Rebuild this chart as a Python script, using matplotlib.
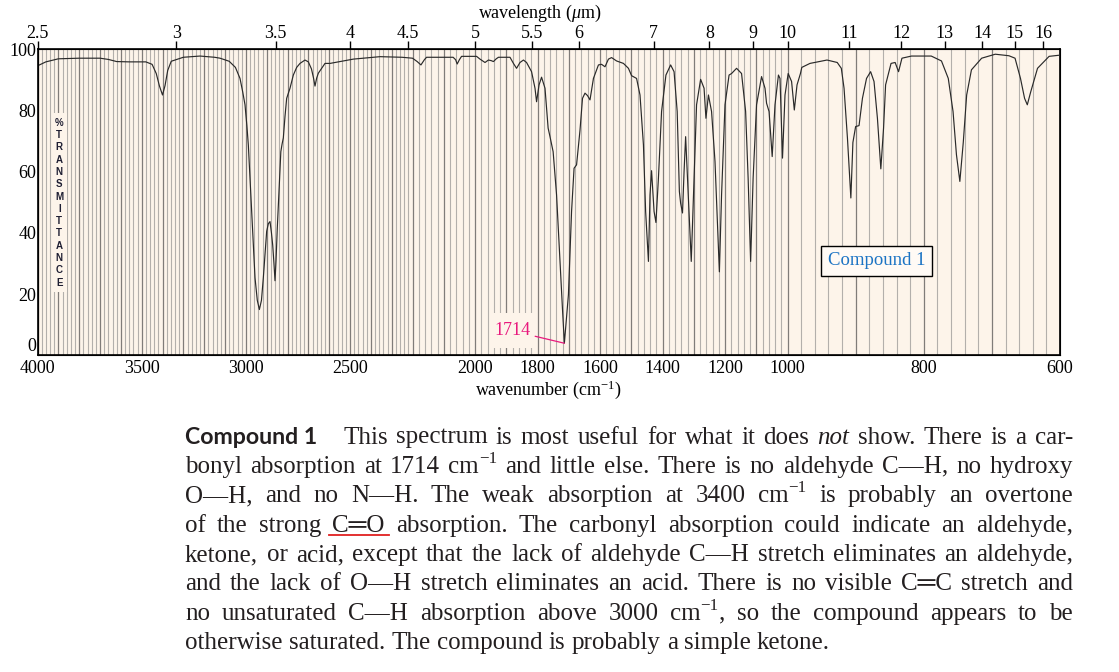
import numpy as np
import matplotlib
matplotlib.use("Agg")
import matplotlib.pyplot as plt
from matplotlib.patches import Rectangle
from matplotlib.lines import Line2D
from matplotlib.ticker import NullLocator

plt.rcParams['font.family'] = ['Liberation Serif', 'DejaVu Sans']
plt.rcParams['mathtext.fontset'] = 'custom'
plt.rcParams['mathtext.rm'] = 'Liberation Serif'
plt.rcParams['mathtext.it'] = 'Liberation Serif:italic'
plt.rcParams['mathtext.bf'] = 'Liberation Serif:bold'

# spectrum (cm-1, %T)
wavenumber = [4000, 3960, 3900, 3800, 3700, 3660, 3620, 3560, 3480, 3450, 3430, 3415,
              3400, 3388, 3375, 3358, 3300, 3220, 3150, 3124, 3080, 3050, 3028, 3015,
              3004, 2995, 2988, 2980, 2972, 2964, 2956, 2945, 2935, 2925, 2916, 2908,
              2900, 2892, 2884, 2877, 2871, 2865, 2860, 2855, 2849, 2840, 2832, 2826,
              2820, 2812, 2804, 2788, 2772, 2756, 2740, 2716, 2700, 2685, 2675, 2668,
              2660, 2652, 2636, 2620, 2596, 2484, 2356, 2250, 2200, 2185, 2173, 2162,
              2155, 2070, 2062, 2057, 2050, 2043, 1995, 1984, 1968, 1957, 1948, 1941,
              1932, 1925, 1888, 1877, 1867, 1856, 1845, 1835, 1819, 1808, 1803, 1795,
              1787, 1776, 1766, 1760, 1750, 1739, 1728, 1720, 1714, 1701, 1691, 1683,
              1675, 1664, 1656, 1648, 1640, 1632, 1621, 1605, 1595, 1584, 1573, 1563,
              1547, 1525, 1509, 1499, 1483, 1472, 1461, 1454, 1445, 1440, 1435, 1427,
              1421, 1413, 1403, 1389, 1374, 1363, 1353, 1346, 1342, 1336, 1331, 1326,
              1320, 1308, 1299, 1291, 1278, 1267, 1261, 1253, 1243, 1232, 1218, 1211,
              1200, 1187, 1179, 1163, 1147, 1134, 1126, 1118, 1110, 1099, 1083, 1072,
              1067, 1059, 1049, 1040, 1029, 1024, 1016, 1008, 999, 994, 990, 986,
              981, 979, 967, 942, 927, 921, 917, 912, 907, 904, 900, 895,
              890, 884, 878, 873, 868, 863, 859, 856, 848, 842, 837, 832,
              818, 789, 774, 764, 757, 752, 747, 742, 737, 730, 715, 695,
              675, 666, 658, 652, 648, 643, 633, 616, 600]
transmittance = [94.5, 95.8, 96.8, 97.0, 97.0, 96.6, 95.9, 95.8, 95.8, 95.0, 92.0, 88.0,
                 85.0, 88.0, 93.0, 96.0, 97.3, 97.7, 97.3, 97.0, 96.0, 94.0, 90.4, 86.0,
                 81.8, 75.0, 68.7, 58.0, 47.0, 36.0, 25.4, 18.0, 15.0, 18.0, 25.4, 33.0,
                 40.5, 43.0, 43.7, 40.0, 36.0, 30.0, 24.4, 31.0, 41.6, 55.0, 66.5, 69.0,
                 71.0, 78.0, 83.9, 87.2, 91.5, 94.0, 95.3, 96.4, 95.8, 93.5, 90.5, 87.9,
                 90.5, 92.1, 93.7, 95.3, 95.3, 96.7, 97.5, 97.3, 97.0, 95.9, 94.8, 96.5,
                 97.3, 97.3, 96.5, 95.1, 96.5, 97.6, 97.6, 96.7, 95.6, 96.4, 96.2, 95.9,
                 96.8, 97.3, 97.3, 95.3, 93.7, 95.6, 96.4, 95.6, 92.6, 87.2, 82.8, 88.3,
                 90.8, 87.2, 74.2, 71.4, 66.5, 52.4, 30.7, 15.0, 4.0, 19.9, 47.0, 61.1,
                 62.2, 73.5, 83.9, 85.6, 84.8, 83.4, 90.4, 94.8, 95.0, 94.2, 96.7, 97.2,
                 96.1, 95.3, 93.7, 91.3, 90.4, 85.0, 68.7, 47.0, 30.7, 52.4, 60.3, 47.0,
                 43.4, 57.9, 79.6, 91.5, 94.8, 92.6, 79.6, 53.5, 49.7, 46.5, 60.0, 71.4,
                 57.9, 30.7, 57.9, 81.8, 90.1, 87.2, 77.4, 85.0, 79.6, 63.3, 27.3, 52.4,
                 81.8, 91.5, 92.0, 93.7, 92.0, 79.6, 57.9, 30.7, 57.9, 81.8, 91.0, 87.2,
                 82.3, 79.6, 64.9, 81.8, 91.5, 90.4, 64.4, 85.0, 92.0, 89.4, 80.1, 88.3,
                 92.0, 94.0, 95.3, 96.4, 95.6, 93.7, 87.2, 70.9, 51.4, 69.5, 74.7, 75.0,
                 83.9, 90.4, 92.6, 89.4, 77.4, 60.9, 74.2, 88.3, 95.3, 95.6, 92.6, 97.0,
                 97.7, 97.7, 96.1, 90.4, 79.6, 65.5, 56.8, 69.5, 85.0, 93.2, 97.0, 98.3,
                 97.8, 97.0, 90.4, 83.9, 81.8, 86.0, 93.7, 97.6, 98.0]

wavenumber_ticks = [4000, 3500, 3000, 2500, 2000, 1800, 1600, 1400, 1200, 1000, 800, 600]
wavelength_ticks = [2.5, 3, 3.5, 4, 4.5, 5, 5.5, 6, 7, 8, 9, 10, 11, 12, 13, 14, 15, 16]
pct_ticks = [0, 20, 40, 60, 80, 100]
peak_label = 1714
peak_value = 4.0

# "_" marks an italic word, "^" a superscript of two characters
paragraph = [
    "This spectrum is most useful for what it does _not show. There is a car-",
    "bonyl absorption at 1714 cm^−1 and little else. There is no aldehyde C—H, no hydroxy",
    "O—H, and no N—H. The weak absorption at 3400 cm^−1 is probably an overtone",
    "of the strong C═O absorption. The carbonyl absorption could indicate an aldehyde,",
    "ketone, or acid, except that the lack of aldehyde C—H stretch eliminates an aldehyde,",
    "and the lack of O—H stretch eliminates an acid. There is no visible C═C stretch and",
    "no unsaturated C—H absorption above 3000 cm^−1, so the compound appears to be",
    "otherwise saturated. The compound is probably a simple ketone.",
]

bg = '#fdf4ea'
W, H = 1119, 672
fig = plt.figure(figsize=(W / 100, H / 100), dpi=100)
ax = fig.add_axes([37.5 / W, 1 - 355.5 / H, 1022.5 / W, 306.5 / H])


# chart paper: three linear pieces in wavenumber
def fwd(w):
    return np.interp(w, [600, 1000, 2200, 4000], [0, 272.5, 647.5, 1022.5])


def inv(u):
    return np.interp(u, [0, 272.5, 647.5, 1022.5], [600, 1000, 2200, 4000])


ax.set_xscale('function', functions=(fwd, inv))
ax.set_xlim(4000, 600)
ax.set_ylim(0, 100)
ax.set_facecolor(bg)

grid = np.arange(600, 4001, 20)
ax.vlines(grid[grid % 100 != 0], 0, 100, colors='#b3afab', lw=0.8, zorder=1)
ax.vlines(grid[grid % 100 == 0], 0, 100, colors='#807c79', lw=0.9, zorder=1)

ax.plot(wavenumber, transmittance, color='#2a2a2a', lw=0.85, zorder=4)

ax.set_xticks(wavenumber_ticks, labels=[str(t) for t in wavenumber_ticks])
ax.xaxis.set_minor_locator(NullLocator())
ax.set_yticks(pct_ticks, labels=[str(t) for t in pct_ticks])
ax.tick_params(axis='both', length=0, labelsize=13)
ax.tick_params(axis='x', pad=3)
ax.tick_params(axis='y', pad=1)
ax.get_yticklabels()[0].set_verticalalignment('bottom')
ax.set_xlabel('wavenumber (cm$^{-1}$)', fontsize=13, labelpad=1)
for s in ax.spines.values():
    s.set_linewidth(1.2)

ax2 = ax.twiny()
ax2.set_xscale('function', functions=(fwd, inv))
ax2.set_xlim(4000, 600)
ax2.set_xticks([1e4 / l for l in wavelength_ticks],
               labels=[f'{l:g}' for l in wavelength_ticks])
ax2.xaxis.set_minor_locator(NullLocator())
ax2.tick_params(axis='x', direction='out', length=6, width=1, labelsize=13, pad=-1)
fig.text(540 / W, 1 - 13 / H, 'wavelength ($\\mu$m)', fontsize=13, ha='center', va='center')

# stacked y label on its own patch of paper
ax.add_patch(Rectangle((0.0139, 0.2085), 0.0153, 0.583, transform=ax.transAxes,
                       facecolor=bg, edgecolor='none', zorder=2))
for ch, yy in zip('%TRANSMITTANCE', np.linspace(0.759, 0.238, 14)):
    ax.text(0.0213, yy, ch, transform=ax.transAxes, ha='center', va='center',
            fontsize=7, fontweight='bold', family='Liberation Sans',
            color='#1f1f33', zorder=3)

# peak callout
ax.add_patch(Rectangle((0.4455, 0.026), 0.043, 0.114, transform=ax.transAxes,
                       facecolor=bg, edgecolor='none', zorder=2))
ax.annotate(str(peak_label), xy=(peak_label, peak_value), xytext=(0.465, 0.08),
            textcoords='axes fraction', ha='center', va='center', fontsize=13,
            color='#e8197d', zorder=5,
            arrowprops=dict(arrowstyle='-', color='#e8197d', lw=0.9, shrinkA=1, shrinkB=0))

ax.text(0.8205, 0.309, 'Compound 1', transform=ax.transAxes, ha='center', va='center',
        fontsize=13.5, color='#1c74c4', zorder=5,
        bbox=dict(boxstyle='square,pad=0.35', fc='#fffaf5', ec='black', lw=1))

# justified caption below the chart
renderer = fig.canvas.get_renderer()
left, right = 185, 1073
base0, step = 443.5, 29.4
size = 18
ink = '#231f20'
head_w = 133
head_gap = 25

head = fig.text(left / W, 1 - base0 / H, 'Compound 1', fontsize=size, fontweight='bold',
                family=['Lato', 'DejaVu Sans'], va='baseline', color=ink)
head.set_fontsize(size * head_w / head.get_window_extent(renderer).width)


def make_token(word):
    style = 'normal'
    if word.startswith('_'):
        word, style = word[1:], 'italic'
    pieces = [(word, 0.0, 1.0)]
    if '^' in word:
        base, rest = word.split('^')
        pieces = [(base, 0.0, 1.0), (rest[:2], 0.40, 0.68)]
        if rest[2:]:
            pieces.append((rest[2:], 0.0, 1.0))
    return [(fig.text(0, 0, s, fontsize=size * k, style=style, va='baseline', color=ink), dy, k)
            for s, dy, k in pieces]


def token_width(tok):
    return sum(t.get_window_extent(renderer).width for t, _, _ in tok)


rows = [[make_token(w) for w in line.split(' ')] for line in paragraph]

fits = []
for i, toks in enumerate(rows[:-1]):
    avail = right - left - (head_w + head_gap if i == 0 else 0)
    total = sum(token_width(tok) for tok in toks)
    fits.append((avail - (len(toks) - 1) * 4) / total)
size = size * min(1.0, min(fits))
for toks in rows:
    for tok in toks:
        for t, _, k in tok:
            t.set_fontsize(size * k)

probe = fig.text(0, 0, 'a a', fontsize=size)
probe1 = fig.text(0, 0, 'aa', fontsize=size)
space_w = probe.get_window_extent(renderer).width - probe1.get_window_extent(renderer).width
probe.remove()
probe1.remove()

px = size * 100 / 72
for i, toks in enumerate(rows):
    base_y = H - (base0 + i * step)
    x = left + (head_w + head_gap if i == 0 else 0)
    widths = [token_width(tok) for tok in toks]
    if i < len(rows) - 1:
        gap = (right - x - sum(widths)) / (len(toks) - 1)
    else:
        gap = space_w
    for tok, w in zip(toks, widths):
        xx = x
        for t, dy, _ in tok:
            t.set_position((xx / W, (base_y + dy * px) / H))
            xx += t.get_window_extent(renderer).width
        if tok[0][0].get_text() == 'C═O' and i == 3:
            fig.add_artist(Line2D([x - 3, x + w + 4], [base_y - 3, base_y - 3], transform=None,
                                  color='#e02020', lw=1.3))
        x += w + gap

fig.savefig('out.png', dpi=100, facecolor='white')
